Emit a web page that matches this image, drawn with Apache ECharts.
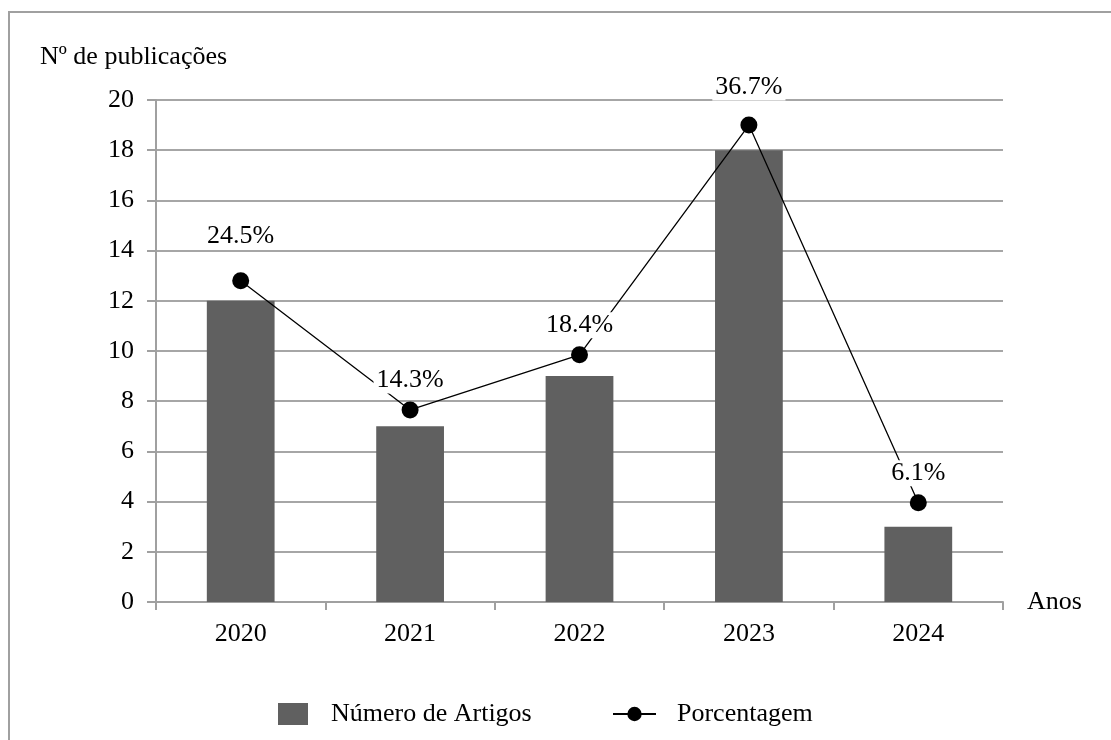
<!DOCTYPE html>
<html>
<head>
<meta charset="utf-8">
<script src="https://cdn.jsdelivr.net/npm/echarts@6/dist/echarts.min.js"></script>
<style>
html,body{margin:0;padding:0;background:#fff;}
#c{width:1111px;height:740px;}
</style>
</head>
<body>
<div id="c"></div>
<script>
// ---- data ----
const years = ['2020', '2021', '2022', '2023', '2024'];
const articleCounts = [12, 7, 9, 18, 3];
const percentages = [24.5, 14.3, 18.4, 36.7, 6.1];
const percentMarkerHeights = [12.8, 7.65, 9.85, 19.0, 3.95];
const yTicks = { min: 0, max: 20, interval: 2 };
const barName = 'Número de Artigos';
const lineName = 'Porcentagem';
const yAxisTitle = 'Nº de publicações';
const xAxisTitle = 'Anos';

// ---- style ----
const FONT = 'Liberation Serif';
const FS = 26;
const labelDistances = [23, 8, 8, 16, 8];

const chart = echarts.init(document.getElementById('c'), null, { renderer: 'canvas' });

const lineData = percentMarkerHeights.map((v, i) => ({
  value: v,
  label: { distance: labelDistances[i] }
}));

chart.setOption({
  backgroundColor: '#fff',
  animation: false,
  textStyle: { fontFamily: FONT, color: '#000' },
  graphic: [
    {
      type: 'rect',
      shape: { x: 9, y: 12, width: 1200, height: 800 },
      style: { fill: 'none', stroke: '#a0a0a0', lineWidth: 2 },
      silent: true
    },
    {
      type: 'text',
      left: 40, top: 44,
      style: { text: yAxisTitle, font: FS + 'px "' + FONT + '"', fill: '#000' }
    }
  ],
  grid: { left: 156, right: 108, top: 100, bottom: 138, containLabel: false },
  legend: [
    {
      data: [{ name: barName, icon: 'rect' }],
      left: 273, top: 696,
      itemWidth: 30, itemHeight: 22,
      textStyle: { fontFamily: FONT, fontSize: FS, color: '#000', padding: [0, 0, 0, 18] }
    },
    {
      data: [{ name: lineName }],
      left: 607, top: 696,
      itemWidth: 43, itemHeight: 18,
      textStyle: { fontFamily: FONT, fontSize: FS, color: '#000', padding: [0, 0, 0, 16] }
    }
  ],
  xAxis: {
    type: 'category',
    data: years,
    name: xAxisTitle,
    nameLocation: 'end',
    nameGap: 24,
    nameTextStyle: { fontFamily: FONT, fontSize: FS, color: '#000', verticalAlign: 'middle' },
    axisLine: { lineStyle: { color: '#a0a0a0', width: 2 } },
    axisTick: { show: true, alignWithLabel: false, length: 8, lineStyle: { color: '#a0a0a0', width: 2 } },
    axisLabel: { fontFamily: FONT, fontSize: FS, color: '#000', margin: 19 },
    splitLine: { show: false }
  },
  yAxis: {
    type: 'value',
    min: yTicks.min, max: yTicks.max, interval: yTicks.interval,
    axisLine: { show: true, lineStyle: { color: '#a0a0a0', width: 2 } },
    axisTick: { show: true, length: 9, lineStyle: { color: '#a0a0a0', width: 2 } },
    axisLabel: { fontFamily: FONT, fontSize: FS, color: '#000', margin: 22 },
    splitLine: { show: true, lineStyle: { color: '#a6a6a6', width: 2 } }
  },
  series: [
    {
      name: barName,
      type: 'bar',
      data: articleCounts,
      barWidth: '40%',
      itemStyle: { color: '#606060' },
      z: 2
    },
    {
      name: lineName,
      type: 'line',
      data: lineData,
      symbol: 'circle',
      symbolSize: 17,
      lineStyle: { color: '#000', width: 1.3 },
      itemStyle: { color: '#000' },
      label: {
        show: true,
        position: 'top',
        formatter: (p) => percentages[p.dataIndex].toFixed(1) + '%',
        fontFamily: FONT,
        fontSize: FS,
        color: '#000',
        backgroundColor: '#fff',
        padding: [0, 3]
      },
      z: 3
    }
  ]
});
</script>
</body>
</html>
